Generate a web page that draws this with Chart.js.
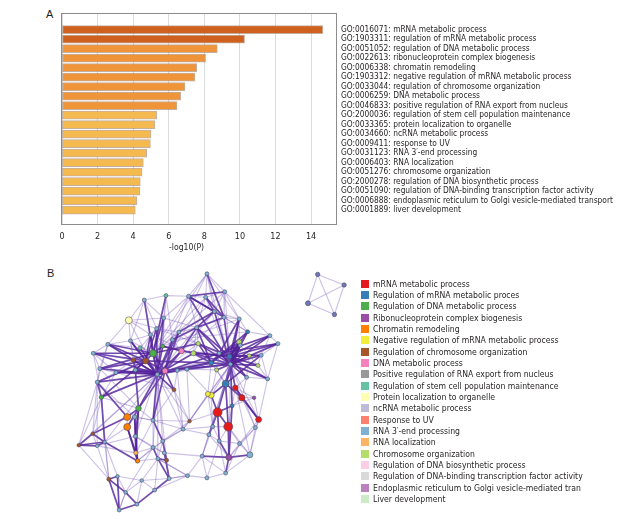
<!DOCTYPE html>
<html><head><meta charset="utf-8">
<script src="https://cdn.jsdelivr.net/npm/chart.js@4"></script>
<style>
html,body{margin:0;padding:0;background:#fff;}
body{width:634px;height:519px;position:relative;overflow:hidden;font-family:"DejaVu Sans Condensed","Liberation Sans Narrow",sans-serif;color:#231f20;}
#ca{position:absolute;left:0;top:0;}
#cb{position:absolute;left:30px;top:250px;}
.lab{position:absolute;font-family:"Liberation Sans","DejaVu Sans",sans-serif;font-size:11px;line-height:11px;}
#legend{position:absolute;left:361px;top:278.5px;font-size:8.6px;}
#legend div{height:11.35px;line-height:11.35px;white-space:nowrap;}
#legend span.sw{display:inline-block;width:8px;height:8px;margin-right:4px;vertical-align:-1px;}
</style></head>
<body>
<div class="lab" style="left:46px;top:9px;">A</div>
<div class="lab" style="left:47px;top:268px;">B</div>
<canvas id="ca" width="634" height="262"></canvas>
<canvas id="cb" width="330" height="269"></canvas>
<div id="legend"></div>
<script>
const FONT = '"DejaVu Sans Condensed","Liberation Sans Narrow",sans-serif';
// ---------- Panel A data ----------
const goTerms = [
  "GO:0016071: mRNA metabolic process",
  "GO:1903311: regulation of mRNA metabolic process",
  "GO:0051052: regulation of DNA metabolic process",
  "GO:0022613: ribonucleoprotein complex biogenesis",
  "GO:0006338: chromatin remodeling",
  "GO:1903312: negative regulation of mRNA metabolic process",
  "GO:0033044: regulation of chromosome organization",
  "GO:0006259: DNA metabolic process",
  "GO:0046833: positive regulation of RNA export from nucleus",
  "GO:2000036: regulation of stem cell population maintenance",
  "GO:0033365: protein localization to organelle",
  "GO:0034660: ncRNA metabolic process",
  "GO:0009411: response to UV",
  "GO:0031123: RNA 3\u2032-end processing",
  "GO:0006403: RNA localization",
  "GO:0051276: chromosome organization",
  "GO:2000278: regulation of DNA biosynthetic process",
  "GO:0051090: regulation of DNA-binding transcription factor activity",
  "GO:0006888: endoplasmic reticulum to Golgi vesicle-mediated transport",
  "GO:0001889: liver development"
];
const logP = [14.66,10.26,8.73,8.07,7.57,7.47,6.91,6.67,6.46,5.32,5.22,5.00,4.97,4.76,4.57,4.50,4.40,4.38,4.21,4.12];
const barTier = [0,0,1,1,1,1,1,1,1,2,2,2,2,2,2,2,2,2,2,2];
const xTicks = [0,2,4,6,8,10,12,14];
const tierColors = ["#cf601d","#f0943a","#f5ba4f"];

// ---------- Panel B data ----------
const clusterNames = [
  "mRNA metabolic process","Regulation of mRNA metabolic proces","Regulation of DNA metabolic process",
  "Ribonucleoprotein complex biogenesis","Chromatin remodeling","Negative regulation of mRNA metabolic process",
  "Regulation of chromosome organization","DNA metabolic process","Positive regulation of RNA export from nucleus",
  "Regulation of stem cell population maintenance","Protein localization to organelle","ncRNA metabolic process",
  "Response to UV","RNA 3\u2032-end processing","RNA localization","Chromosome organization",
  "Regulation of DNA biosynthetic process","Regulation of DNA-binding transcription factor activity",
  "Endoplasmic reticulum to Golgi vesicle-mediated tran","Liver development"
];
const clusterColors = ["#e41a1c","#377eb8","#4daf4a","#984ea3","#ff7f00","#f0ee3a","#a65628","#f781bf","#999999","#66c2a5",
  "#ffffb3","#bebada","#fb8072","#80b1d3","#fdb462","#b3de69","#fccde5","#d9d9d9","#bc80bd","#ccebc5","#6f78b8"];
// node layout (x, y in layout units), cluster index, node size
const nodeX = [532,475,528,587,555,585,405,338,290,398,376,357,295,225,180,365,342,304,325,395,425,453,402,200,250,310,192,
  632,658,727,752,500,632,505,490,602,545,562,635,663,690,700,720,655,590,620,205,320,285,285,308,310,178,135,192,215,312,317,
  380,407,400,365,415,228,255,370,260,315,330,280,365,395,430,545,535,640,678,565,598,692,682,610,633,570,550,538,600,665,517,
  590,532,472,478,458,875,957,845,927,445,440,470,570,378,605];
const nodeY = [58,128,131,114,176,194,126,140,203,196,229,248,267,278,306,306,330,327,289,284,264,299,361,354,366,358,396,
  199,239,251,276,226,271,276,306,316,336,358,281,314,344,312,386,381,401,414,443,478,505,536,505,565,557,593,595,583,617,642,
  635,640,617,600,697,699,690,733,795,777,703,740,515,580,420,437,433,445,445,490,535,513,538,470,588,580,535,560,631,623,627,
  680,695,688,518,543,60,93,150,185,240,360,356,306,372,340];
const nodeCat = [13,13,13,13,13,13,9,13,10,13,13,13,13,13,13,2,6,6,9,2,13,7,7,13,13,13,13,
  13,1,13,13,13,15,15,15,1,1,15,13,15,15,13,13,13,1,0,2,2,4,4,13,13,6,6,13,13,14,4,
  13,6,13,13,13,6,13,13,13,13,13,13,13,13,6,5,5,0,3,0,0,0,13,1,13,13,13,13,3,13,13,
  13,13,13,6,13,20,20,20,20,13,13,13,13,13,13];
const nodeSize = [2,2,2,2,2,2,2,2,3.5,2,2,2,2,2,2,3.5,3,2.2,2,2,2,2.8,2.8,2,2,2,2,
  2,2,2,2,2,2.5,2.2,2.5,2.5,2.5,2,2,2,2,2,2,2,3.5,2.8,2.2,2.8,3.5,3.5,2.2,2,1.8,1.8,1.8,1.8,2.2,2.2,
  2,2,2,2,2,2,1.8,2,2,2,1.8,1.8,2,2,2,3,2.5,3.2,1.8,4.5,4.5,3,2,2,2,2,2,2,3,3,2,
  2,2,2,1.8,2,2.2,2.2,2.5,2.2,2,2,2,2,2,2];
const strongEdges = [
  [102,15],[102,16],[102,17],[102,18],[102,19],[102,21],[102,22],[102,10],[102,11],[102,25],[102,24],[102,13],[102,26],
  [102,46],[102,47],[102,9],[102,20],[102,98],[102,72],[102,99],[102,12],[102,23],[102,14],[102,70],
  [15,16],[15,19],[15,22],[16,22],[21,22],[19,21],[17,25],[15,11],[16,25],[22,72],
  [16,10],[16,11],[16,12],[16,13],[16,14],[16,23],[16,26],[16,46],[22,25],[22,24],[22,47],[22,70],[22,99],[22,20],
  [22,98],[15,9],[15,6],[15,7],[15,13],[15,14],[15,23],
  [103,27],[103,28],[103,29],[103,30],[103,31],[103,32],[103,33],[103,34],[103,35],[103,36],[103,37],[103,38],[103,39],
  [103,40],[103,41],[103,42],[103,43],[103,44],[103,45],[103,5],[103,4],[103,101],[103,100],[103,81],
  [35,27],[35,28],[35,31],[35,33],[35,34],[35,38],[35,39],[35,40],[35,41],[35,42],[35,43],[36,33],[36,34],[36,32],
  [36,28],[36,101],[101,27],[101,29],[101,30],[44,38],[44,41],
  [35,29],[35,30],[35,32],[36,31],[22,36],[21,31],[20,31],[98,4],[1,4],[1,5],[2,5],[1,3],[0,5],[2,4],[4,31],[5,31],[1,103],
  [102,36],[102,101],[102,34],[22,103],[21,35],[16,36],[15,33],[19,34],
  [44,77],[44,78],[45,79],[75,79],[77,78],[81,86],[73,77],[44,75],[77,83],[77,85],[78,86],[44,73],[45,75],[77,81],
  [47,48],[47,49],[49,56],[56,57],[52,53],[53,54],[47,51],[47,56],[49,57],[48,52],[46,55],[50,57],[58,61],[59,71],[60,62],
  [54,55],[55,57],[46,26],[63,64],[64,66],[66,67],[67,65],[62,65],[58,62],[58,59],[50,51],[51,56],[86,89],[86,87],
  [88,86],[83,86],[70,71],[52,55],[63,69],[69,67],[66,63],[47,25],[26,48],[53,55]
];
const weakEdges = [
  [0,1],[0,2],[0,3],[1,2],[2,3],[3,4],[2,4],[3,5],[4,5],[1,6],[6,7],[7,8],[8,12],[8,9],[6,9],[7,9],[9,10],[10,11],
  [11,12],[12,13],[13,14],[14,23],[13,23],[23,24],[14,24],[24,26],[23,26],[12,17],[17,18],[1,9],[1,31],[5,27],[27,28],
  [28,29],[29,30],[30,41],[41,42],[42,43],[43,45],[45,75],[75,76],[76,79],[79,80],[80,82],[82,87],[87,89],[89,90],
  [90,91],[91,62],[62,65],[65,68],[68,69],[69,66],[66,63],[63,53],[53,52],[52,54],[54,26],[26,46],[46,47],[47,50],
  [50,70],[70,93],[93,84],[84,85],[85,83],[83,82],[88,90],[88,91],[85,88],[61,58],[61,60],[60,59],[71,60],[71,93],
  [72,92],[92,93],[92,77],[73,74],[74,36],[36,37],[37,44],[78,84],[78,83],[77,84],[99,100],[100,73],[99,72],[98,20],
  [98,31],[31,33],[33,34],[32,38],[38,39],[39,40],[40,41],[64,69],[55,64],[55,63],[51,61],[51,54],[57,58],[56,61],
  [49,50],[48,50],[48,49],[94,95],[95,97],[97,96],[96,94],[94,97],[95,96],
  [102,51],[102,50],[102,71],[102,61],[102,103],[103,84],[103,73],[103,86],[103,77],[103,88],[22,100],[21,101],
  [34,36],[33,101],[4,27],[5,28],[2,31],[0,4],[6,20],[7,12],[8,13],[13,18],[14,17],[24,46],[25,47],[72,70],[72,93],
  [99,93],[100,92],[74,84],[37,73],[43,75],[42,79],[80,87],[82,86],[89,88],[91,58],[62,60],[65,58],[68,62],[67,68],
  [66,69],[64,68],[63,54],[53,46],[52,26],[54,56],[55,49],[57,61],[51,60],[70,61],[71,58],[93,85],[84,88],[83,90],
  [87,79],[76,45],[41,29],[30,42],[39,43],[40,42],[10,98],[11,25],[12,15],[18,15],[16,24],[17,23],[9,19],[20,21],
  [19,98],[31,34],[32,27],[28,38],[101,37],[35,44],[36,44],[81,77],[81,78],[75,81],[82,78],[87,78],[50,70],[47,70],
  [102,0],[102,1],[102,2],[102,7],[102,8],[102,53],[102,52],[102,55],[102,58],[102,59],[102,92],[102,93],[102,31],
  [102,33],[103,1],[103,2],[103,0],[103,3],[103,92],[103,93],[103,85],[103,79],[103,80],[103,87],[15,0],[16,1],[22,4],
  [21,5],[22,35],[21,103],[15,3],[16,2],[19,27],[20,28],[9,31],[10,33],[11,36],[25,99],[24,72],[23,47],[26,50],[14,46],
  [13,26],[12,25],[8,10],[8,11],[7,10],[6,19],[18,10],[17,24],[70,92],[71,92],[61,93],[60,88],[58,91],[62,91],[65,91],
  [68,58],[69,61],[63,46],[52,46],[53,26],[56,70],[57,71],[59,62],[84,86],[85,86],[83,89],[82,89],[80,86],[79,82],
  [75,80],[76,81],[45,81],[73,84],[74,92],[100,36],[100,37],[99,36],[98,33],[0,27],[3,27],[3,29],[4,28]
];

// ---------- Panel A chart ----------
const frame = {
  id:'frame',
  afterDraw(chart){
    const a = chart.chartArea, c = chart.ctx;
    c.save(); c.strokeStyle = '#8c8c8c'; c.lineWidth = 1;
    c.strokeRect(Math.round(a.left)-0.5, Math.round(a.top)-0.5, Math.round(a.right-a.left)+1, Math.round(a.bottom-a.top)+1);
    c.fillStyle = '#231f20'; c.font = '8.6px ' + FONT;
    c.textAlign = 'center'; c.textBaseline = 'middle';
    c.fillText('-log10(P)', chart.scales.x.getPixelForValue(7), a.bottom + 24);
    c.restore();
  }
};
new Chart(document.getElementById('ca'), {
  type:'bar',
  data:{ datasets:[{
    data: logP.map((v,i)=>({x:v, y:i})),
    backgroundColor: barTier.map(t=>tierColors[t]),
    borderColor: 'rgba(150,110,80,0.55)', borderWidth: 1, borderSkipped:false,
    barThickness: 8
  }]},
  options:{
    indexAxis:'y', responsive:false, animation:false, devicePixelRatio:1,
    layout:{padding:{left:62, top:14, right:0, bottom:0}},
    plugins:{legend:{display:false}, tooltip:{enabled:false}},
    scales:{
      x:{ type:'linear', min:0, max:15.4, position:'bottom',
          afterBuildTicks: ax => { ax.ticks = xTicks.map(v=>({value:v})); },
          afterFit: ax => { ax.height = 38; },
          ticks:{ font:{size:9, family:FONT}, color:'#231f20', padding:7, includeBounds:false, maxRotation:0 },
          grid:{ color:'#dcdcdc', drawTicks:false }, border:{display:false} },
      y:{ type:'linear', min:-1.1, max:19.9, reverse:true, position:'right',
          afterBuildTicks: ax => { ax.ticks = goTerms.map((_,i)=>({value:i})); },
          afterFit: ax => { ax.width = 298; },
          ticks:{ callback: v => goTerms[v], autoSkip:false, padding:5, color:'#231f20',
                  font:{size:8.3, family:FONT} },
          grid:{ display:false, drawTicks:false }, border:{display:false} }
    }
  },
  plugins:[frame]
});

// ---------- Panel B chart ----------
const pt = i => ({x:nodeX[i], y:nodeY[i]});
const edgeSets = [];
weakEdges.forEach(e => edgeSets.push({type:'line', data:[pt(e[0]), pt(e[1])], showLine:true, pointRadius:0,
  borderColor:'rgba(120,90,190,0.38)', borderWidth:1.1, fill:false}));
strongEdges.forEach(e => edgeSets.push({type:'line', data:[pt(e[0]), pt(e[1])], showLine:true, pointRadius:0,
  borderColor:'rgba(82,32,152,0.82)', borderWidth:1.7, fill:false}));
new Chart(document.getElementById('cb'), {
  type:'scatter',
  data:{ datasets:[{
      data: nodeX.map((_,i)=>pt(i)),
      backgroundColor: nodeCat.map(c=>clusterColors[c]),
      borderColor:'rgba(70,70,90,0.8)', borderWidth:0.7,
      pointRadius: nodeSize, pointHoverRadius: nodeSize
    }].concat(edgeSets)
  },
  options:{
    responsive:false, animation:false, devicePixelRatio:1,
    layout:{padding:0},
    plugins:{legend:{display:false}, tooltip:{enabled:false}},
    scales:{
      x:{type:'linear', min:0, max:990, display:false},
      y:{type:'linear', min:0, max:807, reverse:true, display:false}
    }
  }
});

// ---------- Panel B legend ----------
const lg = document.getElementById('legend');
clusterNames.forEach((n,i)=>{
  const d = document.createElement('div');
  const s = document.createElement('span'); s.className='sw'; s.style.background = clusterColors[i];
  d.appendChild(s); d.appendChild(document.createTextNode(n)); lg.appendChild(d);
});
</script>
</body></html>
